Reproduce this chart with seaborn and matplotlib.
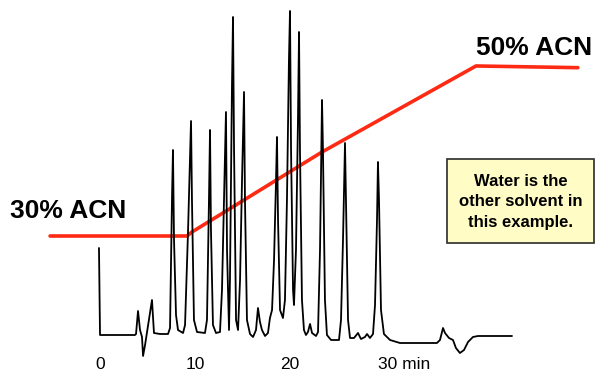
"""Gradient HPLC chromatogram with the %ACN gradient program overlaid."""

import matplotlib.pyplot as plt
import numpy as np
import pandas as pd
import seaborn as sns
from matplotlib.patches import Rectangle
from matplotlib.transforms import ScaledTranslation

# chromatogram trace: retention time (min) vs detector response (a.u.)
TIME = [
    -0.11, 0.00, 3.68, 3.79, 4.00, 4.21, 4.42, 4.53, 4.74, 4.95, 5.26, 5.47, 5.58, 5.68,
    6.32, 7.16, 7.37, 7.58, 7.68, 7.79, 8.00, 8.21, 8.74, 8.95, 9.26, 9.47, 9.58, 9.68,
    9.89, 10.21, 11.05, 11.26, 11.47, 11.58, 11.68, 11.89, 12.21, 12.63, 12.84, 13.05,
    13.26, 13.37, 13.58, 13.68, 13.89, 14.00, 14.11, 14.32, 14.53, 14.74, 14.95, 15.16,
    15.26, 15.47, 15.79, 16.11, 16.42, 16.63, 16.84, 17.05, 17.37, 17.68, 17.89, 18.11,
    18.32, 18.53, 18.63, 18.74, 18.95, 19.26, 19.47, 19.68, 19.89, 20.00, 20.11, 20.32,
    20.42, 20.63, 20.84, 20.95, 21.05, 21.26, 21.47, 21.68, 21.89, 22.11, 22.32, 22.74,
    22.95, 23.16, 23.37, 23.47, 23.68, 23.89, 24.32, 24.84, 25.16, 25.37, 25.58, 25.79,
    25.89, 26.11, 26.32, 26.74, 27.16, 27.47, 27.89, 28.11, 28.42, 28.74, 28.95, 29.16,
    29.26, 29.37, 29.58, 29.89, 30.53, 31.58, 33.68, 35.47, 35.79, 36.11, 36.32, 36.74,
    37.16, 37.47, 37.89, 38.32, 38.74, 39.26, 39.79, 43.37,
]
RESPONSE = [
    87, 0, 0, 1, 24, 5, -2, -21, -10, 3, 22, 35, 17, 2,
    1, 1, 7, 138, 185, 95, 20, 5, 2, 10, 102, 175, 214, 135,
    15, 3, 2, 15, 135, 205, 105, 10, 2, 3, 45, 135,
    223, 85, 5, 55, 248, 318, 185, 15, 5, 55, 155, 243,
    135, 15, 1, -2, 5, 27, 13, 5, -1, 2, 17, 25,
    75, 155, 198, 115, 25, 17, 35, 135, 275, 324, 185, 45,
    30, 85, 215, 303, 185, 35, 5, 0, 3, 11, 2, -1,
    3, 85, 235, 185, 35, 0, -5, -5, -5, 15, 95, 192,
    135, 15, -3, -3, 2, -4, -2, 1, -3, 1, 30, 115,
    173, 135, 25, 1, -5, -8, -8, -8, -5, 7, 2, -3,
    -5, -13, -18, -15, -7, -2, -1, -1,
]

# gradient program: time (min) vs % acetonitrile
GRAD_TIME = [-5.26, 9.16, 9.68, 23.37, 39.58, 50.30]
GRAD_ACN = [30.0, 30.0, 30.47, 39.88, 50.0, 49.8]

TICKS = [0, 10, 20, 30]
TICK_LABELS = ["0", "10", "20", "30 min"]

trace = pd.DataFrame({"time": TIME, "response": RESPONSE})
grad = pd.DataFrame({"time": GRAD_TIME, "acn": GRAD_ACN})

sns.set_theme(style="white")
plt.rcParams["font.family"] = ["Liberation Sans", "DejaVu Sans"]

fig = plt.figure(figsize=(5.95, 3.75), dpi=100)
ax = fig.add_axes([0, 0, 1, 1])
ax_g = ax.twinx()

# gradient sits behind the trace
ax.set_zorder(ax_g.get_zorder() + 1)
ax.patch.set_visible(False)

sns.lineplot(data=grad, x="time", y="acn", ax=ax_g, color="#ff2a14",
             linewidth=2.6, sort=False, estimator=None)
sns.lineplot(data=trace, x="time", y="response", ax=ax, color="black",
             linewidth=1.3, sort=False, estimator=None)

ax.set_xlim(-10.53, 52.11)
ax.set_ylim(-40, 335)
ax_g.set_ylim(13.65, 57.76)

for a in (ax, ax_g):
    for s in a.spines.values():
        s.set_visible(False)
    a.set_xlabel("")
    a.set_ylabel("")
ax_g.set_yticks([])
ax.set_yticks([])

ax.spines["bottom"].set_position(("data", -19))
ax.set_xticks(TICKS)
ax.set_xticklabels(TICK_LABELS)
ax.tick_params(axis="x", length=0, pad=2, labelsize=12.5, labelcolor="black")
last = ax.get_xticklabels()[-1]
last.set_ha("left")
last.set_transform(last.get_transform() + ScaledTranslation(-0.07, 0, fig.dpi_scale_trans))

W, H = 595.0, 375.0
fig.text(10 / W, 1 - 218.5 / H, "30% ACN", fontsize=19, fontweight="bold",
         ha="left", va="baseline", color="black")
fig.text(476 / W, 1 - 55 / H, "50% ACN", fontsize=19, fontweight="bold",
         ha="left", va="baseline", color="black")

fig.patches.append(Rectangle((446.5 / W, 1 - 243 / H), (594 - 446.5) / W, 84 / H,
                             transform=fig.transFigure, facecolor="#fffdc5",
                             edgecolor="#2b2b2b", linewidth=1.2, zorder=5))
fig.text(520.5 / W, 1 - 202 / H, "Water is the\nother solvent in\nthis example.",
         fontsize=12, fontweight="bold", ha="center", va="center",
         linespacing=1.42, color="black", zorder=6)

fig.savefig("out.png", dpi=100)
plt.close(fig)
